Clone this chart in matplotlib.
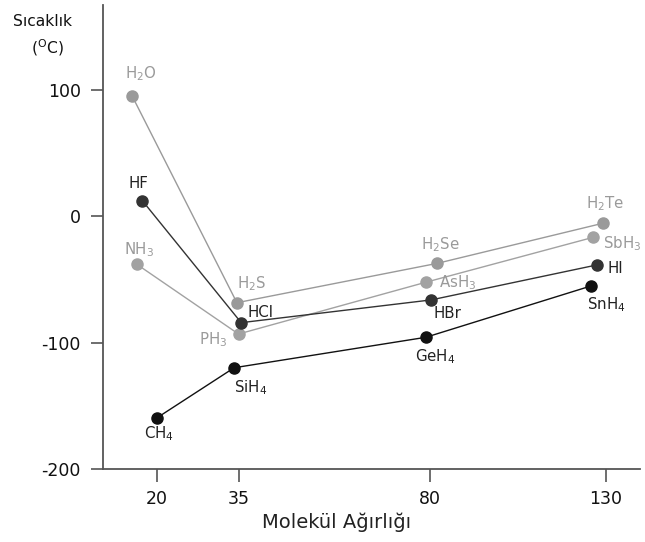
import numpy as np
import matplotlib
matplotlib.use("Agg")
import matplotlib.pyplot as plt

# ---- data ----
x_ticks = [20, 35, 80, 130]
y_ticks = [-200, -100, 0, 100]

g16_names = [r'H$_2$O', r'H$_2$S', r'H$_2$Se', r'H$_2$Te']
g16_mw = [15.4, 34.6, 82.1, 129.1]
g16_bp = [95.7, -68.3, -37.1, -5.4]

g15_names = [r'NH$_3$', r'PH$_3$', r'AsH$_3$', r'SbH$_3$']
g15_mw = [16.3, 34.9, 79.0, 126.4]
g15_bp = [-37.9, -93.1, -52.1, -16.5]

g17_names = ['HF', 'HCl', 'HBr', 'HI']
g17_mw = [17.3, 35.5, 80.3, 127.4]
g17_bp = [12.5, -84.1, -66.1, -38.4]

g14_names = [r'CH$_4$', r'SiH$_4$', r'GeH$_4$', r'SnH$_4$']
g14_mw = [20.0, 34.1, 79.0, 125.8]
g14_bp = [-159.4, -119.8, -95.7, -55.0]

# ---- hand-drawn (non-uniform) x scale ----
_xa = np.array([0, 20, 35, 80, 130, 150], dtype=float)
_ua = np.array([47.6, 157, 239, 430, 606, 676.4])

def fwd(x):
    return np.interp(x, _xa, _ua)

def inv(u):
    return np.interp(u, _ua, _xa)

fig = plt.figure(figsize=(6.45, 5.42), dpi=100)
ax = fig.add_axes([103/645, 73/542, 537/645, 464/542])
ax.set_xscale('function', functions=(fwd, inv))
ax.set_xlim(10.1, 139.7)
ax.set_ylim(-200, 167.5)

light = '#9a9a9a'
dark = '#333333'
black = '#111111'

series = [
    (g16_mw, g16_bp, g16_names, light, light),
    (g15_mw, g15_bp, g15_names, '#a2a2a2', light),
    (g17_mw, g17_bp, g17_names, dark, '#222222'),
    (g14_mw, g14_bp, g14_names, black, '#222222'),
]

# label offsets in pixels (dx, dy, ha)
offsets = {
    r'H$_2$O': (9, 22, 'center'), r'H$_2$S': (15, 19, 'center'),
    r'H$_2$Se': (3, 19, 'center'), r'H$_2$Te': (2, 20, 'center'),
    r'NH$_3$': (2, 15, 'center'), r'PH$_3$': (-25, -6, 'center'),
    r'AsH$_3$': (13, 0, 'left'), r'SbH$_3$': (10, -6, 'left'),
    'HF': (-4, 17, 'center'), 'HCl': (6, 10, 'left'),
    'HBr': (2, -14, 'left'), 'HI': (11, -4, 'left'),
    r'CH$_4$': (2, -16, 'center'), r'SiH$_4$': (16, -20, 'center'),
    r'GeH$_4$': (9, -19, 'center'), r'SnH$_4$': (15, -19, 'center'),
}

for mw, bp, names, col, tcol in series:
    ax.plot(mw, bp, '-', color=col, lw=1.0, marker='o', ms=8,
            markerfacecolor=col, markeredgecolor=col, zorder=3)
    for xv, yv, nm in zip(mw, bp, names):
        dx, dy, ha = offsets[nm]
        ax.annotate(nm, (xv, yv), xytext=(dx, dy), textcoords='offset pixels',
                    ha=ha, va='center', fontsize=10.8, color=tcol,
                    annotation_clip=False)

for s in ['top', 'right']:
    ax.spines[s].set_visible(False)
for s in ['left', 'bottom']:
    ax.spines[s].set_color('#555555')
    ax.spines[s].set_linewidth(1.3)

ax.set_xticks(x_ticks)
ax.set_xticklabels([str(v) for v in x_ticks])
ax.set_yticks(y_ticks)
ax.set_yticklabels([str(v) for v in y_ticks])
ax.tick_params(axis='both', direction='out', length=9, width=1.2,
               color='#555555', labelsize=12.5, labelcolor='#111111')
ax.tick_params(axis='y', pad=7)
ax.tick_params(axis='x', pad=6)

fig.text(337/645, 1 - 522/542, 'Molekül Ağırlığı', ha='center', va='center',
         fontsize=14, color='#222222')
fig.text(42/645, 1 - 22/542, 'Sıcaklık', ha='center', va='center',
         fontsize=11.2, color='#111111')
fig.text(47/645, 1 - 48/542, r'($^{\mathregular{O}}$C)', ha='center', va='center',
         fontsize=11.2, color='#111111')

fig.savefig('out.png', dpi=100)
